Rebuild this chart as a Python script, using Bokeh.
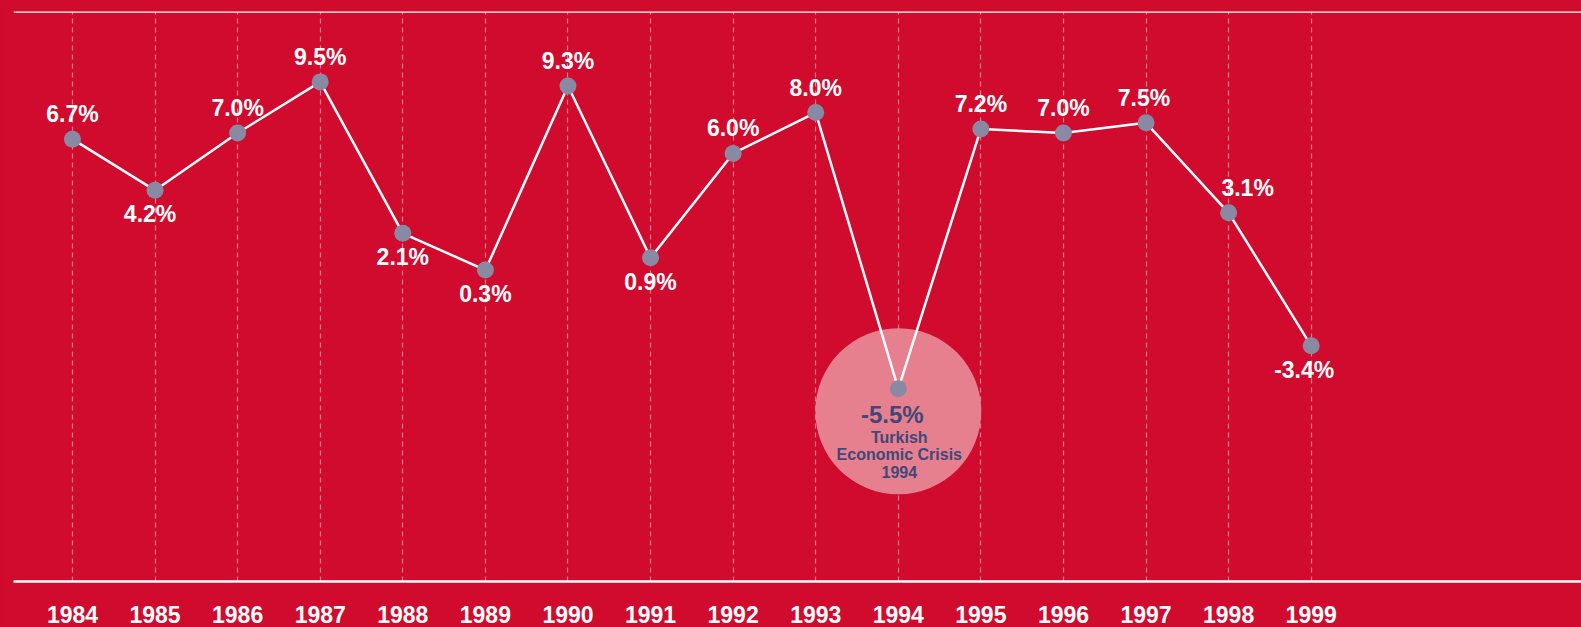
from bokeh.plotting import figure
from bokeh.models import Range1d, Span, FixedTicker
from bokeh.core.properties import value
from bokeh.embed import file_html
from bokeh.resources import INLINE

years = list(range(1984, 2000))
growth = [6.7, 4.2, 7.0, 9.5, 2.1, 0.3, 9.3, 0.9, 6.0, 8.0, -5.5, 7.2, 7.0, 7.5, 3.1, -3.4]
labels = [f"{v:.1f}%" for v in growth]
placement = ["above", "below", "above", "above", "below", "below", "above", "below",
             "above", "above", "crisis", "above", "above", "above", "above", "below"]
label_dx = [0, -5, 0, 0, 0, 0, 0, 0, 0, 0, 0, 0, 0, -2, 19, -7]
crisis_year = 1994
crisis_lines = ["Turkish", "Economic Crisis", "1994"]

RED = "#D00B2E"
FONT = "Liberation Sans"

p = figure(width=1581, height=627, output_backend="svg", toolbar_location=None,
           x_range=Range1d(1983.286, 2002.273), y_range=Range1d(-14.92, 12.94),
           min_border_left=13, min_border_right=0, min_border_top=11, min_border_bottom=46)
p.background_fill_color = None
p.border_fill_color = RED
p.outline_line_color = None

p.yaxis.visible = False
p.ygrid.grid_line_color = None
p.xaxis.ticker = FixedTicker(ticks=years)
p.xgrid.ticker = FixedTicker(ticks=years)
p.xgrid.grid_line_color = "#EE7C8E"
p.xgrid.grid_line_dash = "5 4"
p.xgrid.grid_line_width = 1.2

p.xaxis.axis_line_color = "white"
p.xaxis.axis_line_width = 2.5
p.xaxis.major_tick_line_color = None
p.xaxis.minor_tick_line_color = None
p.xaxis.major_tick_out = 0
p.xaxis.major_tick_in = 0
p.xaxis.major_label_standoff = 24
p.xaxis.major_label_text_color = "white"
p.xaxis.major_label_text_font = FONT
p.xaxis.major_label_text_font_style = "bold"
p.xaxis.major_label_text_font_size = "23px"

p.add_layout(Span(location=12.94, dimension="width", line_color="white", line_width=2.5))

ci = years.index(crisis_year)
# highlight disc around crisis point
p.scatter(x=[crisis_year], y=[growth[ci] - 1.1], size=166, fill_color="#E6808F",
          line_color=None)

p.line(years, growth, line_color="white", line_width=2.5)
p.scatter(years, growth, size=17, fill_color="#8A89A4", line_color=None)

lx, ly, lt, lyo, lxo = [], [], [], [], []
for yr, v, t, pl, dx in zip(years, growth, labels, placement, label_dx):
    if pl == "crisis":
        continue
    lx.append(yr); ly.append(v); lt.append(t); lxo.append(dx)
    lyo.append(-25 if pl == "above" else 24)
p.text(x=lx, y=ly, text=lt, x_offset=lxo, y_offset=lyo, text_align="center",
       text_baseline="middle", text_color="white", text_font=value(FONT),
       text_font_style="bold", text_font_size="23px")

p.text(x=[crisis_year], y=[growth[ci]], text=[labels[ci]], y_offset=[26], x_offset=[-6],
       text_align="center", text_baseline="middle", text_color="#3F4878",
       text_font=value(FONT), text_font_style="bold", text_font_size="24px")
p.text(x=[crisis_year] * 3, y=[growth[ci]] * 3, text=crisis_lines, y_offset=[49, 66, 83],
       x_offset=[1, 1, 1],
       text_align="center", text_baseline="middle", text_color="#3F4878",
       text_font=value(FONT), text_font_style="bold", text_font_size="16px")

html = file_html(p, INLINE)
html = html.replace("<head>", "<head><style>html,body{margin:0;padding:0;background:%s;}</style>" % RED, 1)
open("out.html", "w").write(html)
